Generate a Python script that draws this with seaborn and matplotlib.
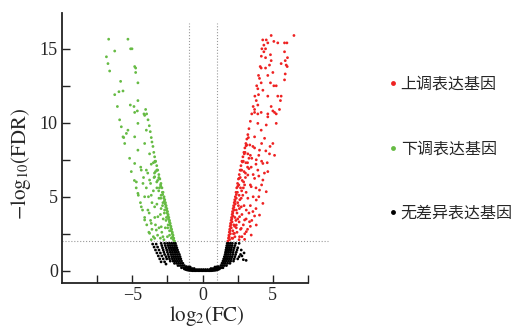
import matplotlib
matplotlib.use("Agg")
import matplotlib.pyplot as plt
from matplotlib.lines import Line2D
from matplotlib.ticker import FixedLocator
import pandas as pd
import seaborn as sns

# group labels / colours
labels = ['上调表达基因', '下调表达基因', '无差异表达基因']
colors = ['#ee2222', '#66bb44', '#000000']

# up-regulated genes (log2FC, -log10 FDR)
up_points = [
    # dense inner edge
    (1.80, 2.0), (1.84, 2.2), (1.87, 2.4), (1.90, 2.6), (1.93, 2.8), (1.96, 3.0), (1.99, 3.2),
    (2.03, 3.4), (2.06, 3.6), (2.10, 3.8), (2.13, 4.0), (2.17, 4.2), (2.21, 4.4), (2.25, 4.6),
    (2.29, 4.8), (2.33, 5.0), (2.38, 5.3), (2.43, 5.6), (2.49, 5.9), (2.55, 6.2), (2.61, 6.5),
    (2.67, 6.8), (2.73, 7.1), (2.80, 7.4), (2.87, 7.7), (2.94, 8.0), (3.01, 8.3), (3.08, 8.6),
    (3.15, 8.9), (3.22, 9.2), (3.30, 9.6), (3.40, 10.1), (3.50, 10.6), (3.60, 11.1), (3.72, 11.8),
    (3.85, 12.5), (3.98, 13.2), (4.10, 13.8), (4.18, 14.5), (4.22, 15.0), (4.28, 15.6),
    (1.89, 2.3), (1.95, 2.7), (2.01, 3.1), (2.08, 3.5), (2.15, 3.9), (2.23, 4.3), (2.31, 4.7),
    (2.40, 5.15), (2.50, 5.7), (2.61, 6.25), (2.72, 6.8), (2.84, 7.35), (2.97, 7.9), (3.10, 8.45),
    (1.92, 2.1), (1.98, 2.5), (2.04, 2.9), (2.10, 3.3), (2.17, 3.7), (2.24, 4.1), (2.32, 4.5),
    (2.40, 4.9), (2.48, 5.3), (2.58, 5.8), (2.68, 6.3), (2.78, 6.8), (2.90, 7.4), (3.02, 8.0),
    (3.14, 8.5), (3.26, 9.0),
    (2.08, 2.2), (2.15, 2.7), (2.22, 3.1), (2.30, 3.6), (2.40, 4.1), (2.50, 4.6), (2.60, 5.1),
    (2.70, 5.6), (2.82, 6.1), (2.95, 6.7), (3.08, 7.3), (3.22, 7.9), (3.36, 8.5),
    (2.20, 2.5), (2.28, 3.0), (2.37, 3.4), (2.45, 3.9), (2.55, 4.4), (2.65, 4.8), (2.78, 5.4),
    (2.92, 6.0), (3.05, 6.6), (3.20, 7.3), (3.30, 7.6),
    (2.30, 2.3), (2.40, 2.9), (2.50, 3.5), (2.62, 4.2), (2.75, 4.9), (2.90, 5.6), (3.05, 6.3),
    (3.20, 7.0), (3.40, 7.8),
    # scattered lower part
    (2.60, 2.1), (2.80, 2.3), (2.45, 2.6), (3.00, 2.5), (2.70, 2.8), (3.20, 2.8), (2.90, 3.1),
    (3.40, 3.0), (2.60, 3.3), (3.10, 3.5), (3.50, 3.4), (2.80, 3.8), (3.30, 3.9), (3.70, 3.7),
    (2.95, 4.4), (3.40, 4.4), (3.80, 4.2), (3.60, 5.0), (4.00, 5.0), (3.10, 5.3), (3.40, 5.8),
    (3.80, 5.6), (4.20, 5.8), (3.60, 6.5), (4.00, 6.4), (4.40, 6.6), (3.30, 6.9), (3.80, 7.2),
    (4.20, 7.4), (4.60, 7.3), (3.50, 7.6), (4.00, 7.8), (4.50, 8.1), (3.70, 8.3), (4.20, 8.6),
    (4.80, 8.4),
    (2.15, 2.19), (2.99, 2.12), (2.63, 2.30), (3.46, 2.41), (2.27, 2.53), (3.11, 2.64),
    (2.75, 2.86), (2.40, 3.09), (3.82, 3.09), (3.34, 3.31), (2.99, 3.43), (2.63, 3.65),
    (4.05, 3.76), (3.58, 4.00), (3.11, 4.10), (2.75, 4.32), (4.29, 4.55), (3.82, 4.78),
    (3.22, 4.90), (2.86, 5.10), (4.53, 5.34), (4.05, 5.45), (3.46, 5.68), (2.99, 5.80),
    (4.29, 6.13), (3.70, 6.24), (3.22, 6.47), (4.64, 6.70), (3.93, 6.80), (3.46, 7.00),
    (4.29, 7.25), (3.82, 7.50), (5.12, 7.80), (4.76, 7.90), (4.05, 8.15), (3.58, 8.40),
    (5.00, 8.60), (4.41, 8.95), (3.70, 9.05), (4.17, 9.50), (5.24, 9.96), (3.93, 9.96),
    (4.53, 9.85), (4.64, 10.4), (3.70, 10.7), (3.93, 10.6), (5.12, 10.7),
    # upper part
    (4.17, 10.7), (4.64, 10.6), (5.24, 10.6), (3.70, 10.9), (5.47, 10.9), (3.93, 11.2),
    (4.88, 11.1), (5.00, 10.8), (3.82, 11.5), (5.54, 11.5), (3.98, 11.9), (4.64, 11.8),
    (5.35, 11.8), (5.59, 11.8), (4.29, 12.2), (3.93, 12.3), (5.24, 12.5), (5.07, 12.5),
    (4.17, 12.7), (4.83, 12.7), (5.83, 12.9), (4.05, 13.0), (4.64, 13.2), (5.88, 13.3),
    (5.00, 13.4), (4.17, 13.7), (4.48, 13.7), (6.02, 13.8), (5.95, 13.9), (4.76, 13.9),
    (5.59, 14.0), (4.88, 14.2), (5.88, 14.2), (6.04, 14.4), (4.48, 14.4), (4.83, 14.6),
    (4.36, 14.8), (5.83, 14.8), (4.48, 15.0), (4.36, 15.25), (4.64, 15.4), (5.35, 15.4),
    (5.83, 15.4), (6.00, 15.4), (5.07, 15.5), (4.53, 15.6), (4.88, 15.9), (6.50, 15.9),
]

# down-regulated genes
down_points = [
    # dense inner edge
    (-2.00, 2.0), (-2.05, 2.2), (-2.10, 2.4), (-2.15, 2.6), (-2.20, 2.8), (-2.25, 3.0),
    (-2.30, 3.2), (-2.35, 3.4), (-2.40, 3.6), (-2.45, 3.8), (-2.49, 4.0), (-2.54, 4.2),
    (-2.59, 4.4), (-2.64, 4.6), (-2.69, 4.8), (-2.74, 5.0), (-2.81, 5.3), (-2.89, 5.6),
    (-2.96, 5.9), (-3.04, 6.2), (-3.11, 6.5), (-3.19, 6.8), (-3.26, 7.1), (-3.34, 7.4),
    (-3.41, 7.7), (-3.47, 8.0), (-3.53, 8.4), (-3.60, 8.7), (-3.65, 9.0), (-3.72, 9.4),
    (-3.79, 9.8), (-3.88, 10.2), (-3.98, 10.6), (-4.05, 10.9),
    (-2.13, 2.3), (-2.23, 2.7), (-2.33, 3.1), (-2.43, 3.5), (-2.53, 3.9), (-2.62, 4.3),
    (-2.72, 4.7), (-2.84, 5.15), (-2.97, 5.7), (-3.10, 6.25), (-3.25, 6.8), (-3.38, 7.35),
    (-2.08, 2.1), (-2.16, 2.5), (-2.26, 2.9), (-2.36, 3.3), (-2.46, 3.7), (-2.56, 4.1),
    (-2.66, 4.5), (-2.76, 4.9), (-2.86, 5.3), (-2.99, 5.8), (-3.11, 6.3), (-3.24, 6.8),
    (-3.39, 7.4),
    (-2.22, 2.2), (-2.35, 2.7), (-2.45, 3.1), (-2.57, 3.6), (-2.70, 4.1), (-2.82, 4.6),
    (-2.95, 5.1), (-3.07, 5.6), (-3.20, 6.1), (-3.35, 6.7), (-3.50, 7.3),
    (-2.35, 2.4), (-2.48, 2.9), (-2.60, 3.4), (-2.72, 3.9), (-2.85, 4.4), (-2.97, 4.9),
    (-3.12, 5.4), (-3.26, 6.0), (-3.42, 6.6),
    (-2.50, 2.3), (-2.65, 2.9), (-2.80, 3.5), (-2.95, 4.2), (-3.10, 4.9), (-3.25, 5.6),
    (-3.45, 6.3),
    # faint outer row
    (-4.85, 6.1), (-4.72, 5.6), (-4.57, 5.1), (-4.42, 4.6), (-4.27, 4.1), (-4.12, 3.6),
    (-3.97, 3.1), (-3.82, 2.6), (-3.65, 2.1),
    # scattered lower part
    (-3.00, 2.2), (-3.20, 2.4), (-2.90, 2.6), (-3.50, 2.3), (-3.10, 2.9), (-3.35, 3.1),
    (-2.75, 2.1), (-3.60, 2.8), (-3.40, 3.6), (-3.00, 3.8), (-3.70, 3.4), (-3.80, 3.9),
    (-3.25, 4.5), (-3.60, 4.6), (-3.85, 5.0), (-3.50, 5.4), (-4.00, 5.6), (-3.70, 5.9),
    (-4.20, 6.3), (-3.90, 6.6), (-4.40, 7.0), (-3.65, 7.2),
    (-2.82, 2.30), (-3.41, 2.19), (-3.29, 2.75), (-3.77, 2.53), (-2.94, 2.97), (-3.18, 3.65),
    (-3.65, 3.20), (-4.12, 3.43), (-3.41, 4.32), (-3.89, 4.10), (-4.36, 4.32), (-3.65, 5.10),
    (-4.12, 5.00), (-4.60, 5.23), (-3.41, 6.35), (-3.77, 6.13), (-4.24, 5.90), (-4.71, 6.00),
    (-4.00, 6.80), (-4.36, 6.80), (-5.07, 6.70), (-4.83, 7.25), (-5.19, 7.60), (-3.77, 7.90),
    (-4.60, 8.15), (-4.12, 8.60), (-5.54, 8.60), (-4.83, 9.05), (-5.66, 9.05), (-4.00, 9.50),
    (-5.31, 9.50), (-4.60, 9.96), (-5.90, 10.2), (-4.12, 10.5), (-4.83, 10.7),
    # upper part
    (-5.61, 9.00), (-5.42, 9.28), (-5.78, 9.73), (-4.17, 10.6), (-4.64, 10.8), (-4.88, 11.1),
    (-6.06, 11.1), (-5.14, 11.2), (-4.60, 11.5), (-6.25, 11.9), (-5.95, 12.1), (-5.66, 12.15),
    (-4.60, 12.7), (-5.83, 12.8), (-4.76, 13.4), (-6.61, 13.5), (-4.76, 13.7), (-4.83, 13.8),
    (-6.73, 14.0), (-6.84, 14.46), (-6.25, 14.85), (-5.12, 15.0), (-5.02, 15.0),
    (-6.68, 15.65), (-5.31, 15.65),
]

# genes without differential expression
none_points = [
    # bottom of the bowl
    (-1.30, 0.12), (-1.20, 0.08), (-1.10, 0.05), (-1.00, 0.03), (-0.90, 0.02), (-0.80, 0.01),
    (-0.70, 0.00), (-0.60, 0.00), (-0.50, 0.00), (-0.40, 0.00), (-0.30, 0.00), (-0.20, 0.00),
    (-0.10, 0.00), (0.00, 0.00), (0.10, 0.00), (0.20, 0.00), (0.30, 0.00), (0.40, 0.00),
    (0.50, 0.00), (0.60, 0.00), (0.70, 0.01), (0.80, 0.02), (0.90, 0.03), (1.00, 0.05),
    (1.10, 0.08), (1.20, 0.12),
    (-1.00, 0.10), (-0.85, 0.09), (-0.70, 0.08), (-0.55, 0.08), (-0.40, 0.08), (-0.25, 0.08),
    (-0.10, 0.08), (0.05, 0.08), (0.20, 0.08), (0.35, 0.08), (0.50, 0.08), (0.65, 0.08),
    (0.80, 0.09), (0.95, 0.10),
    (-1.05, 0.18), (-0.90, 0.16), (-0.75, 0.15), (-0.60, 0.15), (0.60, 0.15), (0.75, 0.15),
    (0.90, 0.16), (1.05, 0.18),
    (-1.15, 0.28), (-1.00, 0.26), (-0.88, 0.25), (0.88, 0.25), (1.00, 0.26), (1.12, 0.28),
    # left arm
    (-1.20, 0.20), (-1.35, 0.20), (-1.50, 0.20),
    (-1.30, 0.35), (-1.45, 0.35), (-1.60, 0.35), (-1.75, 0.35),
    (-1.40, 0.50), (-1.55, 0.50), (-1.70, 0.50), (-1.85, 0.50), (-2.00, 0.50),
    (-1.50, 0.65), (-1.65, 0.65), (-1.80, 0.65), (-1.95, 0.65), (-2.10, 0.65), (-2.30, 0.65),
    (-1.55, 0.80), (-1.70, 0.80), (-1.85, 0.80), (-2.00, 0.80), (-2.15, 0.80), (-2.35, 0.80), (-2.55, 0.80),
    (-1.60, 0.95), (-1.75, 0.95), (-1.90, 0.95), (-2.05, 0.95), (-2.20, 0.95), (-2.40, 0.95), (-2.60, 0.95),
    (-1.65, 1.10), (-1.80, 1.10), (-1.95, 1.10), (-2.10, 1.10), (-2.25, 1.10), (-2.45, 1.10), (-2.70, 1.10),
    (-1.72, 1.25), (-1.87, 1.25), (-2.00, 1.25), (-2.15, 1.25), (-2.30, 1.25), (-2.50, 1.25), (-2.75, 1.25),
    (-1.78, 1.40), (-1.92, 1.40), (-2.05, 1.40), (-2.20, 1.40), (-2.35, 1.40), (-2.55, 1.40), (-2.80, 1.40),
    (-1.83, 1.55), (-1.97, 1.55), (-2.10, 1.55), (-2.25, 1.55), (-2.40, 1.55), (-2.60, 1.55), (-2.85, 1.55),
    (-1.88, 1.70), (-2.00, 1.70), (-2.15, 1.70), (-2.30, 1.70), (-2.45, 1.70), (-2.65, 1.70), (-2.90, 1.70),
    (-1.93, 1.85), (-2.05, 1.85), (-2.20, 1.85), (-2.35, 1.85), (-2.50, 1.85), (-2.70, 1.85), (-2.95, 1.85),
    (-3.55, 1.80), (-3.45, 1.60), (-3.35, 1.40), (-3.25, 1.20), (-3.15, 1.00), (-3.05, 0.80), (-2.95, 0.60),
    (-3.30, 1.80), (-3.20, 1.60), (-3.10, 1.40), (-3.00, 1.20), (-2.90, 1.00), (-2.80, 0.80), (-2.70, 0.60),
    (-2.60, 0.45),
    # right arm
    (1.20, 0.20), (1.32, 0.20), (1.45, 0.20),
    (1.30, 0.35), (1.42, 0.35), (1.55, 0.35), (1.70, 0.35),
    (1.38, 0.50), (1.50, 0.50), (1.62, 0.50), (1.78, 0.50), (1.95, 0.50),
    (1.45, 0.65), (1.57, 0.65), (1.70, 0.65), (1.85, 0.65), (2.00, 0.65), (2.20, 0.65),
    (1.50, 0.80), (1.62, 0.80), (1.75, 0.80), (1.90, 0.80), (2.05, 0.80), (2.25, 0.80), (2.50, 0.80),
    (1.55, 0.95), (1.67, 0.95), (1.80, 0.95), (1.95, 0.95), (2.10, 0.95), (2.30, 0.95), (2.60, 0.95),
    (1.60, 1.10), (1.70, 1.10), (1.83, 1.10), (1.98, 1.10), (2.15, 1.10), (2.35, 1.10), (2.70, 1.10),
    (1.63, 1.25), (1.73, 1.25), (1.86, 1.25), (2.00, 1.25), (2.18, 1.25), (2.40, 1.25),
    (1.66, 1.40), (1.76, 1.40), (1.89, 1.40), (2.03, 1.40), (2.20, 1.40), (2.45, 1.40), (2.75, 1.40),
    (1.69, 1.55), (1.79, 1.55), (1.92, 1.55), (2.06, 1.55), (2.25, 1.55), (2.50, 1.55),
    (1.72, 1.70), (1.82, 1.70), (1.95, 1.70), (2.10, 1.70), (2.30, 1.70),
    (1.75, 1.85), (1.85, 1.85), (1.98, 1.85), (2.12, 1.85), (2.35, 1.85), (2.60, 1.85),
    (2.90, 0.75), (3.10, 0.70), (2.80, 1.00), (2.95, 1.20),
]

rows = []
for name, pts in zip(labels, [up_points, down_points, none_points]):
    for x, y in pts:
        rows.append({'log2FC': x, 'logFDR': y, 'group': name})
df = pd.DataFrame(rows)

sns.set_style('ticks')
plt.rcParams['font.family'] = ['Liberation Serif', 'Noto Sans CJK SC']
plt.rcParams['mathtext.fontset'] = 'stix'
plt.rcParams['xtick.direction'] = 'in'
plt.rcParams['ytick.direction'] = 'in'

fig = plt.figure(figsize=(5.19, 3.29), dpi=100)
ax = fig.add_axes([62 / 519, 1 - 283.3 / 329, 246 / 519, 270 / 329])

# threshold lines
ax.axhline(2, xmin=0, xmax=1.08, color='#999999', lw=0.8, ls=':', clip_on=False, zorder=1)
ax.axvline(-1, ymin=0, ymax=0.963, color='#999999', lw=0.8, ls=':', zorder=1)
ax.axvline(1, ymin=0, ymax=0.963, color='#999999', lw=0.8, ls=':', zorder=1)

sns.scatterplot(data=df, x='log2FC', y='logFDR', hue='group', hue_order=labels,
                palette=dict(zip(labels, colors)), s=4, linewidth=0, marker='o',
                legend=False, ax=ax, zorder=2)

ax.set_xlim(-10, 7.5)
ax.set_ylim(-0.85, 17.4)
ax.xaxis.set_major_locator(FixedLocator([-5, 0, 5]))
ax.xaxis.set_minor_locator(FixedLocator([-7.5, -2.5, 2.5, 7.5]))
ax.yaxis.set_major_locator(FixedLocator([0, 5, 10, 15]))
ax.yaxis.set_minor_locator(FixedLocator([2.5, 7.5, 12.5]))
ax.tick_params(which='both', direction='in', length=6, width=1, color='#222222')
ax.tick_params(which='major', labelsize=13, pad=3)

for side in ['top', 'right']:
    ax.spines[side].set_visible(False)
for side in ['left', 'bottom']:
    ax.spines[side].set_linewidth(1.3)
    ax.spines[side].set_color('#222222')

ax.set_xlabel(r'$\mathrm{log}_2\mathrm{(FC)}$', fontsize=15)
ax.set_ylabel(r'$-\mathrm{log}_{10}\mathrm{(FDR)}$', fontsize=15)
ax.xaxis.set_label_coords(0.588, -0.078)
ax.yaxis.set_label_coords(-0.118, 0.442)

handles = [Line2D([], [], ls='', marker='o', markersize=3.5, markerfacecolor=c,
                  markeredgewidth=0) for c in colors]
fig.legend(handles, labels, loc='upper left', bbox_to_anchor=(0.7475, 0.769),
           frameon=False, handlelength=0.6, handletextpad=0.2,
           labelspacing=2.95, borderpad=0, borderaxespad=0,
           prop={'family': 'Noto Sans CJK SC', 'size': 11.5})

fig.savefig('out.png', dpi=100)
